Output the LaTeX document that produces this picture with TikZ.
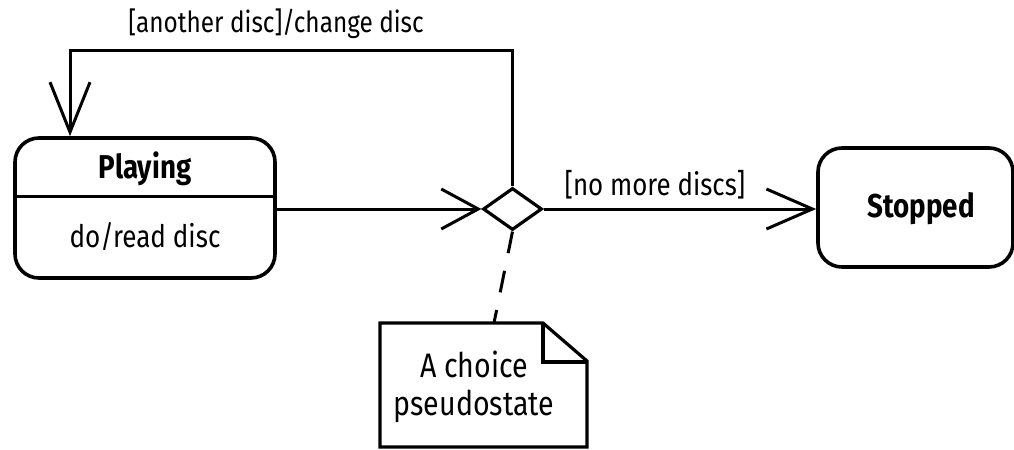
\documentclass[tikz,border=0pt]{standalone}
\usepackage{fontspec}
\setmainfont[FakeStretch=0.84]{Fira Sans}
\usetikzlibrary{arrows.meta,shapes.geometric,calc}
\newcommand{\txtsize}[1]{\fontsize{#1}{1.2\dimexpr#1\relax}\selectfont}
\begin{document}
\begin{tikzpicture}[x=0.5pt,y=-0.5pt,
  font=\txtsize{14.5pt},
  statebox/.style={draw,line width=1.8pt,rounded corners=12pt,inner sep=0pt},
  flow/.style={line width=1.5pt},
  barb/.style={-{Straight Barb[length=#1,width=20pt,line width=1.5pt]}},
  choicept/.style={draw,diamond,line width=1.6pt,inner sep=0pt,
    minimum width=29.5pt,minimum height=21pt},
  lbl/.style={inner sep=0pt,anchor=base},
  title/.style={lbl,font=\txtsize{16.5pt}\bfseries}]
\useasboundingbox (0,0) rectangle (1014,450);

% states
\node[statebox,minimum width=130pt,minimum height=70pt] (playing) at (145,208) {};
\draw[line width=1.6pt] ($(playing.north west)!0.421!(playing.south west)$)
  -- ($(playing.north east)!0.421!(playing.south east)$);
\node[title] (playname) at (145,178) {Playing};
\node[lbl,font=\txtsize{15.5pt}] (playdo) at (145,247) {do/read disc};

\node[statebox,minimum width=97.5pt,minimum height=59.5pt] (stopped) at (915.5,207.5) {};
\node[title] (stopname) at (921,217) {Stopped};

% choice pseudostate
\node[choicept] (choice) at (512.5,209) {};

% transitions
\draw[flow,barb=18.5pt] (playing.east |- choice.west) -- (choice.west);
\draw[flow,barb=23pt] (choice.east) -- (stopped.west |- choice.east);
\node[lbl,font=\txtsize{15.4pt}] (nomore) at (655,195) {[no more discs]};

\coordinate (loopcorner) at (70,50);
\draw[flow,barb=25pt] (choice.north) |- (loopcorner) -- (playing.north -| loopcorner);
\node[lbl] (another) at (276,32) {[another disc]/change disc};

% note attached to the choice
\draw[line width=1.6pt] (380,323) -- (543,323) -- (587,361) -- (587,447) -- (380,447) -- cycle;
\draw[line width=1.6pt] (543,323) -- (543,362) -- (587,362);
\coordinate (noteanchor) at (494,323);
\node[lbl,font=\txtsize{17pt}] (notea) at (474,377) {A choice};
\node[lbl,font=\txtsize{17pt}] (noteb) at (474,415) {pseudostate};
\draw[flow,dash pattern=on 11pt off 9pt] (choice.south) -- (noteanchor);
\end{tikzpicture}
\end{document}
